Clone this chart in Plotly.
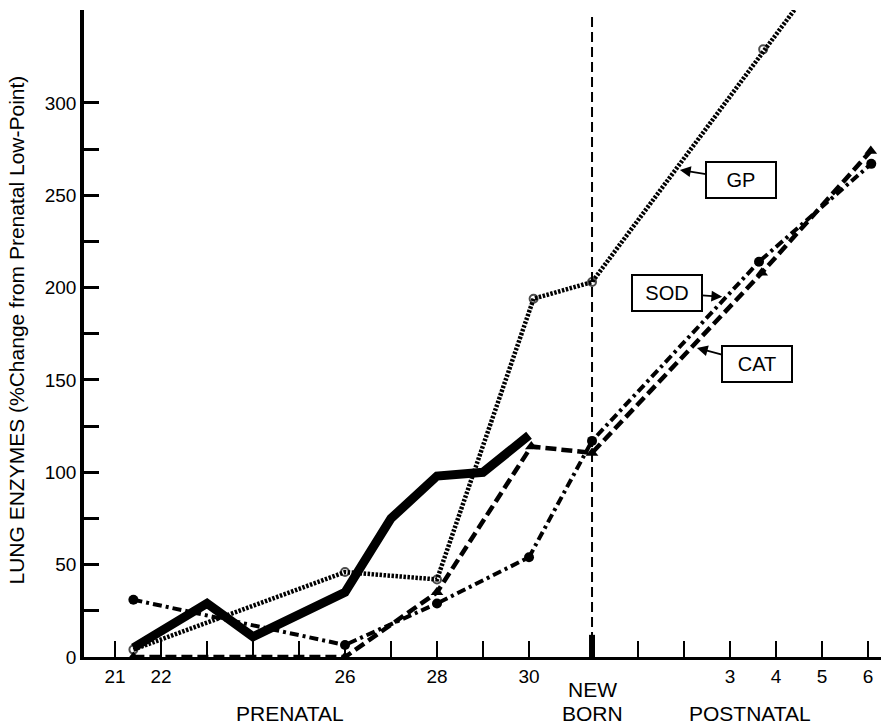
import plotly.graph_objects as go

# ---- axis positions -------------------------------------------------------
PRENATAL_DAYS = [21, 22, 23, 24, 25, 26, 27, 28, 29, 30]
PRENATAL_LABELS = ["21", "22", "", "", "", "26", "", "28", "", "30"]
NEWBORN_POS = 31.37          # newborn sits between prenatal 30 and postnatal 1
POSTNATAL_DAYS = [1, 2, 3, 4, 5, 6]
POSTNATAL_LABELS = ["", "", "3", "4", "5", "6"]

def post(n):
    return NEWBORN_POS + n

# ---- series (x = day position, y = % change from prenatal low point) -------
solid_x = [21.4, 23, 24, 26, 27, 28, 29, 30]
solid_y = [5, 29, 11, 35, 75, 98, 100, 120]

gp_x = [21.4, 26, 28, 30.1, NEWBORN_POS, post(3.72), post(6.0)]
gp_y = [4, 46, 42, 194, 203, 329, 404]

sod_x = [21.4, 26, 28, 30, NEWBORN_POS, post(3.63), post(6.07)]
sod_y = [31, 6.5, 29, 54, 117, 214, 267]

cat_x = [21.4, 26, 28, 30.05, NEWBORN_POS, post(3.69), post(6.06)]
cat_y = [0, 0, 35, 114, 110.5, 208, 274]

Y_TICKS = [0, 25, 50, 75, 100, 125, 150, 175, 200, 225, 250, 275, 300]
Y_LABELS = ["0", "", "50", "", "100", "", "150", "", "200", "", "250", "", "300"]

FONT = "Liberation Sans, Arial, sans-serif"

fig = go.Figure()

fig.add_trace(go.Scatter(
    x=gp_x, y=gp_y, mode="lines+markers", name="GP",
    line=dict(color="black", width=4.5, dash="2.5px,1.5px"),
    marker=dict(symbol="circle-open", size=[8, 8, 8, 8, 8, 8, 0],
                color="black", line=dict(width=2, color="black")),
    cliponaxis=True,
))
fig.add_trace(go.Scatter(
    x=sod_x, y=sod_y, mode="lines+markers", name="SOD",
    line=dict(color="black", width=4, dash="9px,4px,3px,4px"),
    marker=dict(symbol="circle", size=10, color="black"),
    cliponaxis=False,
))
fig.add_trace(go.Scatter(
    x=cat_x, y=cat_y, mode="lines+markers", name="CAT",
    line=dict(color="black", width=4.5, dash="11px,5px"),
    marker=dict(symbol="triangle-up", size=11, color="black"),
    cliponaxis=False,
))
fig.add_trace(go.Scatter(
    x=solid_x, y=solid_y, mode="lines", name="total",
    line=dict(color="black", width=9),
    cliponaxis=False,
))

# newborn vertical dashed line and thick tick
fig.add_shape(type="line", xref="x", yref="paper", x0=NEWBORN_POS, x1=NEWBORN_POS,
              y0=0, y1=0.992, line=dict(color="black", width=2, dash="10px,5px"))
fig.add_shape(type="line", xref="x", yref="y", x0=NEWBORN_POS, x1=NEWBORN_POS,
              y0=0, y1=12, line=dict(color="black", width=6))

tickvals = PRENATAL_DAYS + [NEWBORN_POS] + [post(n) for n in POSTNATAL_DAYS]
ticktext = PRENATAL_LABELS + [""] + POSTNATAL_LABELS

fig.update_xaxes(
    range=[20.326, 37.652], tickvals=tickvals, ticktext=ticktext,
    ticks="inside", ticklen=16, tickwidth=2, tickcolor="black",
    showline=True, linecolor="black", linewidth=2.5,
    showgrid=False, zeroline=False,
    tickfont=dict(family=FONT, size=19, color="black"),
)
fig.update_yaxes(
    range=[0, 350.3], tickvals=Y_TICKS, ticktext=Y_LABELS,
    ticks="inside", ticklen=15, tickwidth=2.5, tickcolor="black",
    showline=True, linecolor="black", linewidth=3.5,
    showgrid=False, zeroline=False,
    tickfont=dict(family=FONT, size=19, color="black"),
)

ann_font = dict(family=FONT, size=21, color="black")
annotations = [
    dict(text="LUNG ENZYMES (%Change from Prenatal Low-Point)", textangle=-90,
         xref="paper", yref="paper", x=-0.085, y=0.505, showarrow=False,
         xanchor="center", yanchor="middle",
         font=dict(family=FONT, size=21, color="black")),
    dict(text="PRENATAL", xref="x", yref="paper", x=24.8, y=-0.0866,
         xanchor="center", yanchor="middle", showarrow=False, font=ann_font),
    dict(text="NEW", xref="x", yref="paper", x=NEWBORN_POS, y=-0.050,
         xanchor="center", yanchor="middle", showarrow=False, font=ann_font),
    dict(text="BORN", xref="x", yref="paper", x=NEWBORN_POS, y=-0.0866,
         xanchor="center", yanchor="middle", showarrow=False, font=ann_font),
    dict(text="POSTNATAL", xref="x", yref="paper", x=34.8, y=-0.0866,
         xanchor="center", yanchor="middle", showarrow=False, font=ann_font),
]
# labelled boxes with arrows
box_style = dict(showarrow=True, arrowhead=2, arrowsize=1.2, arrowwidth=1.8,
                 arrowcolor="black", bordercolor="black", borderwidth=2,
                 bgcolor="white", width=62, height=28, borderpad=3,
                 font=dict(family=FONT, size=20, color="black"))
annotations += [
    dict(text="GP", x=33.28, y=263.7, ax=61, ay=10, **box_style),
    dict(text="SOD", x=34.2, y=195, ax=-55, ay=-4, **box_style),
    dict(text="CAT", x=33.65, y=167.3, ax=60, ay=16, **box_style),
]

fig.update_layout(
    width=881, height=726,
    margin=dict(l=84, r=0, t=10, b=69),
    paper_bgcolor="white", plot_bgcolor="white",
    showlegend=False, annotations=annotations,
    font=dict(family=FONT, color="black"),
)

fig.write_html(
    "out.html",
    config={"displayModeBar": False},
    post_script="document.body.style.margin='0';document.body.style.overflow='hidden';",
)
